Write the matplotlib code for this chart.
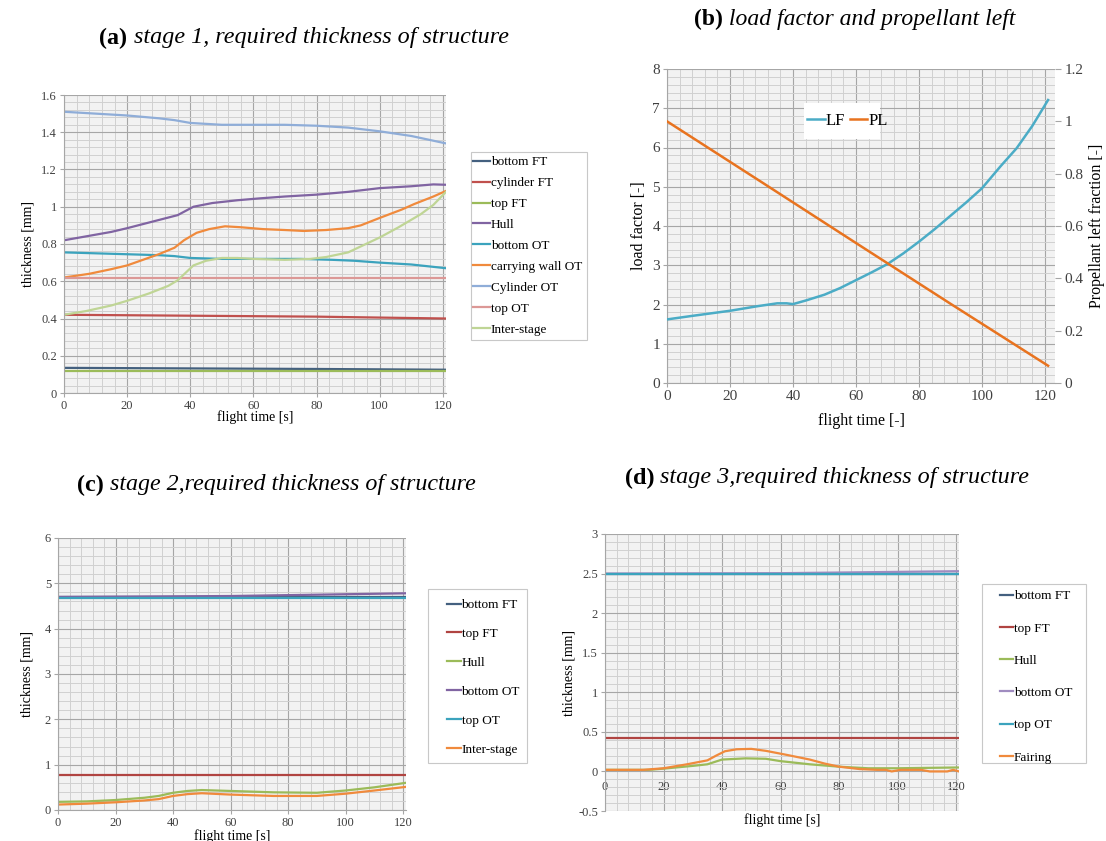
import matplotlib
matplotlib.use("Agg")
import matplotlib.pyplot as plt
from matplotlib.ticker import MultipleLocator, FuncFormatter
from matplotlib.patches import Rectangle

plt.rcParams['font.family'] = ['Liberation Serif', 'DejaVu Serif']

# ---- (a) stage 1 ----
a_labels = ["bottom FT", "cylinder FT", "top FT", "Hull", "bottom OT",
            "carrying wall OT", "Cylinder OT", "top OT", "Inter-stage"]
a_colors = ["#44607f", "#c0504d", "#9bbb59", "#8064a2", "#3ba3bd",
            "#f08a3c", "#8fadd8", "#dc9896", "#bfd595"]

a_t_flat = [0, 40, 80, 100, 121]
a_bottom_ft = [0.135, 0.132, 0.129, 0.127, 0.125]
a_cyl_ft = [0.42, 0.415, 0.41, 0.405, 0.40]
a_top_ft = [0.12, 0.12, 0.12, 0.12, 0.12]
a_top_ot = [0.62, 0.62, 0.62, 0.62, 0.62]

a_hull_t = [0, 5, 15, 20, 28, 36, 41, 47, 55, 62, 70, 80, 90, 100, 110, 117, 121]
a_hull = [0.82, 0.835, 0.865, 0.885, 0.92, 0.955, 1.0, 1.02, 1.035, 1.045,
          1.055, 1.065, 1.08, 1.10, 1.11, 1.12, 1.118]

a_bot_ot_t = [0, 10, 20, 30, 35, 40, 50, 60, 75, 85, 92, 100, 110, 121]
a_bot_ot = [0.755, 0.75, 0.745, 0.74, 0.735, 0.725, 0.72, 0.72, 0.72, 0.715,
            0.71, 0.70, 0.69, 0.67]

a_cw_t = [0, 8, 15, 20, 25, 30, 35, 38, 42, 46, 51, 56, 63, 70, 76, 83, 90,
          94, 100, 107, 111, 117, 121]
a_cw = [0.62, 0.64, 0.665, 0.685, 0.715, 0.745, 0.78, 0.82, 0.86, 0.88, 0.895,
        0.89, 0.88, 0.875, 0.87, 0.875, 0.885, 0.90, 0.94, 0.985, 1.015, 1.055, 1.085]

a_cyl_ot_t = [0, 10, 20, 30, 35, 40, 50, 60, 70, 80, 90, 100, 110, 121]
a_cyl_ot = [1.51, 1.50, 1.49, 1.475, 1.465, 1.45, 1.44, 1.44, 1.44, 1.435,
            1.425, 1.405, 1.38, 1.34]

a_is_t = [0, 7, 15, 20, 27, 33, 36, 41, 45, 50, 55, 60, 70, 78, 83, 90, 95,
          100, 106, 113, 117, 121]
a_is = [0.42, 0.44, 0.47, 0.495, 0.535, 0.575, 0.605, 0.685, 0.71, 0.725,
        0.725, 0.72, 0.715, 0.72, 0.73, 0.755, 0.795, 0.835, 0.89, 0.96, 1.01, 1.08]

a_series = [(a_t_flat, a_bottom_ft), (a_t_flat, a_cyl_ft), (a_t_flat, a_top_ft),
            (a_hull_t, a_hull), (a_bot_ot_t, a_bot_ot), (a_cw_t, a_cw),
            (a_cyl_ot_t, a_cyl_ot), (a_t_flat, a_top_ot), (a_is_t, a_is)]

# ---- (b) load factor / propellant left ----
b_t = [0, 8, 20, 29, 35, 38, 40, 44, 50, 55, 60, 65, 70, 75, 80, 85, 90, 95,
       100, 106, 111, 116, 121]
b_lf = [1.62, 1.71, 1.84, 1.96, 2.03, 2.03, 2.01, 2.10, 2.25, 2.42, 2.62, 2.82,
        3.03, 3.30, 3.60, 3.92, 4.26, 4.60, 4.96, 5.53, 5.98, 6.55, 7.21]
b_pl_t = [0, 30, 60, 90, 121]
b_pl = [1.0, 0.768, 0.535, 0.303, 0.066]

# ---- (c) stage 2 ----
c_labels = ["bottom FT", "top FT", "Hull", "bottom OT", "top OT", "Inter-stage"]
c_colors = ["#44607f", "#b04441", "#9bbb59", "#8064a2", "#3ba3bd", "#f08a3c"]
c_t_flat = [0, 60, 121]
c_bottom_ft = [4.69, 4.69, 4.69]
c_top_ft = [0.78, 0.78, 0.78]
c_bottom_ot = [4.70, 4.72, 4.78]
c_top_ot = [4.67, 4.67, 4.67]
c_t = [0, 10, 20, 30, 35, 40, 45, 50, 60, 75, 90, 100, 110, 121]
c_hull = [0.18, 0.19, 0.22, 0.27, 0.31, 0.38, 0.42, 0.44, 0.42, 0.39, 0.38,
          0.43, 0.50, 0.60]
c_inter = [0.12, 0.14, 0.17, 0.21, 0.24, 0.31, 0.35, 0.37, 0.34, 0.31, 0.31,
           0.36, 0.43, 0.51]
c_series = [(c_t_flat, c_bottom_ft), (c_t_flat, c_top_ft), (c_t, c_hull),
            (c_t_flat, c_bottom_ot), (c_t_flat, c_top_ot), (c_t, c_inter)]

# ---- (d) stage 3 ----
d_labels = ["bottom FT", "top FT", "Hull", "bottom OT", "top OT", "Fairing"]
d_colors = ["#44607f", "#b04441", "#9bbb59", "#a08cc0", "#3ba3bd", "#f08a3c"]
d_t_flat = [0, 60, 121]
d_bottom_ft = [2.50, 2.50, 2.50]
d_top_ft = [0.42, 0.42, 0.42]
d_bottom_ot = [2.50, 2.505, 2.53]
d_top_ot = [2.50, 2.50, 2.50]
d_hull_t = [0, 15, 20, 30, 35, 40, 48, 55, 60, 70, 80, 90, 100, 110, 121]
d_hull = [0.02, 0.02, 0.035, 0.07, 0.09, 0.15, 0.165, 0.16, 0.13, 0.09, 0.06,
          0.04, 0.04, 0.045, 0.05]
d_fair_t = [0, 13, 20, 28, 35, 38, 41, 45, 50, 55, 62, 70, 75, 80, 87, 93, 96,
            98, 101, 108, 111, 117, 119, 121]
d_fair = [0.02, 0.02, 0.04, 0.09, 0.14, 0.20, 0.255, 0.28, 0.285, 0.26, 0.21,
          0.15, 0.10, 0.06, 0.03, 0.02, 0.02, 0.0, 0.02, 0.02, 0.0, 0.0, 0.02, 0.0]
d_series = [(d_t_flat, d_bottom_ft), (d_t_flat, d_top_ft), (d_hull_t, d_hull),
            (d_t_flat, d_bottom_ot), (d_t_flat, d_top_ot), (d_fair_t, d_fair)]

W, H = 1106, 841
fig = plt.figure(figsize=(W / 100, H / 100), dpi=100)
renderer = fig.canvas.get_renderer()
fmt = FuncFormatter(lambda v, p: f"{v:g}")


def px_axes(left, top, right, bottom):
    return fig.add_axes([left / W, 1 - bottom / H, (right - left) / W, (bottom - top) / H])


def style(ax, xmax, ymin, ymax, ymaj, ymin_step, fs):
    ax.set_facecolor("#f2f2f2")
    ax.set_xlim(0, xmax)
    ax.set_ylim(ymin, ymax)
    ax.xaxis.set_major_locator(MultipleLocator(20))
    ax.xaxis.set_minor_locator(MultipleLocator(4))
    ax.yaxis.set_major_locator(MultipleLocator(ymaj))
    ax.yaxis.set_minor_locator(MultipleLocator(ymin_step))
    ax.grid(which="major", color="#a6a6a6", lw=0.8)
    ax.grid(which="minor", color="#d0d0d0", lw=0.7)
    ax.set_axisbelow(True)
    for s in ax.spines.values():
        s.set_visible(False)
    for side in ("left", "bottom"):
        ax.spines[side].set_visible(True)
        ax.spines[side].set_color("#a6a6a6")
    ax.tick_params(which="major", length=3, color="#a6a6a6", labelsize=fs,
                   labelcolor="#404040", pad=2)
    ax.tick_params(which="minor", length=0)
    ax.yaxis.set_major_formatter(fmt)


def title(cx, cy, x_start, x_end, tag, text):
    # bold tag + italic text, scaled to the reference width and centred
    fs = 16
    t1 = fig.text(0, 1 - cy / H, tag, ha="left", va="center", fontsize=fs, fontweight="bold")
    t2 = fig.text(0, 1 - cy / H, " " + text, ha="left", va="center", fontsize=fs, style="italic")
    w1 = t1.get_window_extent(renderer).width
    w2 = t2.get_window_extent(renderer).width
    fs = fs * (x_end - x_start) / (w1 + w2)
    t1.set_fontsize(fs)
    t2.set_fontsize(fs)
    w1 = t1.get_window_extent(renderer).width
    w2 = t2.get_window_extent(renderer).width
    x0 = cx - (w1 + w2) / 2
    t1.set_x(x0 / W)
    t2.set_x((x0 + w1) / W)


def legend(ax, handles, labels, box, x_handle, y_top, fs, spacing, hl):
    x0, y0, x1, y1 = box
    fig.patches.append(Rectangle((x0 / W, 1 - y1 / H), (x1 - x0) / W, (y1 - y0) / H,
                                 transform=fig.transFigure, facecolor="white",
                                 edgecolor="#c8c8c8", lw=0.8, zorder=-1))
    leg = ax.legend(handles, labels, loc="upper left",
                    bbox_to_anchor=(x_handle / W, 1 - y_top / H),
                    bbox_transform=fig.transFigure, borderaxespad=0, borderpad=0,
                    fontsize=fs, handlelength=hl, handletextpad=0.05,
                    labelspacing=spacing, frameon=False)
    return leg


# (a)
ax = px_axes(64, 95, 446, 393)
style(ax, 121, 0, 1.6, 0.2, 0.04, 9)
lines = []
for (t, v), c, lab in zip(a_series, a_colors, a_labels):
    ln, = ax.plot(t, v, color=c, lw=1.6, label=lab)
    lines.append(ln)
ax.set_ylabel("thickness [mm]", fontsize=10, labelpad=5)
ax.set_xlabel("flight time [s]", fontsize=10, labelpad=-1)
legend(ax, lines, a_labels, (471, 152, 587, 340), 473, 156, 9.5, 0.66, 1.3)
title(304, 38, 100, 508, "(a)", "stage 1, required thickness of structure")

# (b)
ax = px_axes(667, 69, 1055, 383)
style(ax, 123.2, 0, 8, 1, 0.2, 11)
ln1, = ax.plot(b_t, b_lf, color="#4bacc6", lw=1.8, zorder=3)
ax.add_patch(Rectangle((804 / W, 1 - 139 / H), 76 / W, 36 / H,
                       transform=fig.transFigure, facecolor="white",
                       edgecolor="none", zorder=1))
ax2 = ax.twinx()
ln2, = ax2.plot(b_pl_t, b_pl, color="#e8731f", lw=1.8)
ax2.set_ylim(0, 1.2)
ax2.yaxis.set_major_locator(MultipleLocator(0.2))
ax2.yaxis.set_major_formatter(fmt)
for s in ax2.spines.values():
    s.set_visible(False)
ax2.tick_params(length=4, color="#a6a6a6", labelsize=11, labelcolor="#404040", pad=3)
ax.set_ylabel("load factor [-]", fontsize=11.5, labelpad=4)
ax2.set_ylabel("Propellant left fraction [-]", fontsize=11.5, labelpad=4)
ax.set_xlabel("flight time [-]", fontsize=11.5, labelpad=7)
ax2.legend([ln1, ln2], ["LF", "PL"], loc="center left", ncol=2,
           bbox_to_anchor=(807 / W, 1 - 121 / H),
           bbox_transform=fig.transFigure, borderaxespad=0, borderpad=0,
           fontsize=12, handlelength=1.05, handletextpad=0.05, columnspacing=0.3,
           frameon=False)
title(855, 19, 695, 1016, "(b)", "load factor and propellant left")

# (c)
ax = px_axes(58, 538, 406, 810)
style(ax, 121, 0, 6, 1, 0.2, 9)
lines = []
for (t, v), c, lab in zip(c_series, c_colors, c_labels):
    ln, = ax.plot(t, v, color=c, lw=1.6)
    lines.append(ln)
ax.set_ylabel("thickness [mm]", fontsize=10, labelpad=8)
ax.set_xlabel("flight time [s]", fontsize=10, labelpad=0)
legend(ax, lines, c_labels, (428, 589, 527, 763), 447, 599, 9.5, 1.26, 1.05)
title(276, 485, 77, 476, "(c)", "stage 2,required thickness of structure")

# (d)
ax = px_axes(605, 534, 959, 811)
style(ax, 121, -0.5, 3, 0.5, 0.1, 9)
ax.spines["bottom"].set_position(("data", 0))
ax.spines["bottom"].set_visible(False)
ax.tick_params(axis="x", length=0, pad=7)
lines = []
for (t, v), c, lab in zip(d_series, d_colors, d_labels):
    ln, = ax.plot(t, v, color=c, lw=1.6)
    lines.append(ln)
ax.set_ylabel("thickness [mm]", fontsize=10, labelpad=2)
ax.set_xlabel("flight time [s]", fontsize=10)
ax.xaxis.set_label_coords(0.5, -0.008)
legend(ax, lines, d_labels, (982, 584, 1086, 763), 1000, 590, 9.5, 1.52, 1.0)
title(827, 478, 625, 1029, "(d)", "stage 3,required thickness of structure")

fig.savefig("out.png", dpi=100)
